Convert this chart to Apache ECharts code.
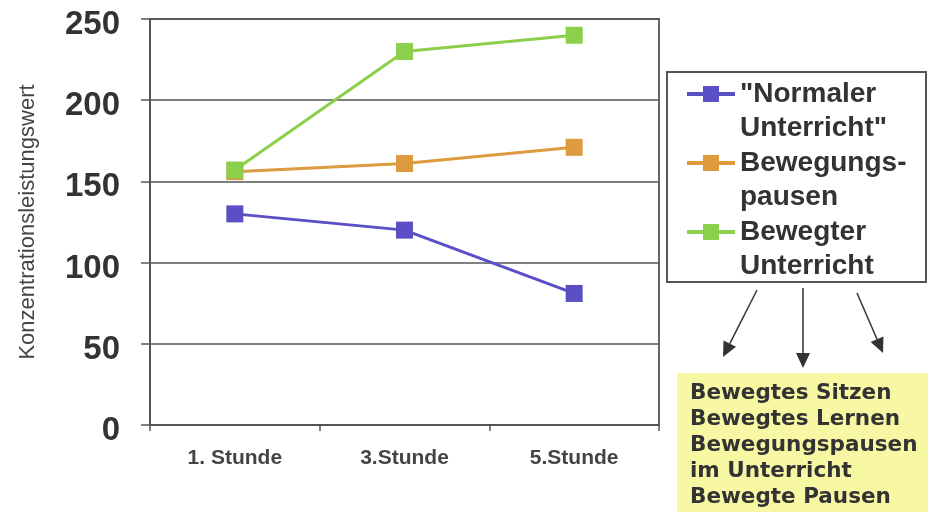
<!DOCTYPE html>
<html>
<head>
<meta charset="utf-8">
<script src="https://cdn.jsdelivr.net/npm/echarts@6/dist/echarts.min.js"></script>
<style>
  html, body { margin: 0; padding: 0; background: #ffffff; }
  #chart { width: 928px; height: 512px; }
</style>
</head>
<body>
<div id="chart"></div>
<script>
// Lesson hours on the category axis
const stunden = ['1. Stunde', '3.Stunde', '5.Stunde'];

// Concentration performance per teaching form
const normalerUnterricht = [130, 120, 81];
const bewegungspausen = [156, 161, 171];
const bewegterUnterricht = [157, 230, 240];

// Series names and their two-line legend captions
const seriesNames = ['"Normaler Unterricht"', 'Bewegungspausen', 'Bewegter Unterricht'];
const legendCaptions = ['"Normaler\nUnterricht"', 'Bewegungs-\npausen', 'Bewegter\nUnterricht'];

// Value axis range and step
const yMin = 0, yMax = 250, yStep = 50;

// Forms of "bewegte Schule" listed in the yellow note
const noteLines = ['Bewegtes Sitzen', 'Bewegtes Lernen', 'Bewegungspausen', 'im Unterricht', 'Bewegte Pausen'];

const colors = ['#5a4fc4', '#dd9a3e', '#8ccf4a'];
const seriesData = [normalerUnterricht, bewegungspausen, bewegterUnterricht];

const chart = echarts.init(document.getElementById('chart'), null, { renderer: 'canvas' });

// Arrow from the legend frame down to the note: shaft plus filled head
function arrow(x1, y1, x2, y2) {
  const dx = x2 - x1, dy = y2 - y1;
  const len = Math.sqrt(dx * dx + dy * dy);
  const ux = dx / len, uy = dy / len;
  const headLen = 15, headHalf = 7;
  const bx = x2 - ux * headLen, by = y2 - uy * headLen;
  return [
    { type: 'line', shape: { x1: x1, y1: y1, x2: bx, y2: by }, style: { stroke: '#333', lineWidth: 1.5 }, z: 5 },
    { type: 'polygon', shape: { points: [[x2, y2], [bx - uy * headHalf, by + ux * headHalf], [bx + uy * headHalf, by - ux * headHalf]] }, style: { fill: '#333' }, z: 5 }
  ];
}

const option = {
  backgroundColor: '#ffffff',
  animation: false,
  color: colors,
  grid: {
    left: 150, right: 269, top: 19, bottom: 87,
    show: true, borderColor: '#666', borderWidth: 2
  },
  legend: {
    orient: 'vertical',
    left: 685, top: 43,
    padding: 0,
    itemWidth: 48, itemHeight: 20, itemGap: -33,
    data: seriesNames,
    // leading blank line keeps the first caption line level with the icon
    formatter: function (name) { return '\n' + legendCaptions[seriesNames.indexOf(name)]; },
    lineStyle: { width: 4 },
    textStyle: {
      fontFamily: 'Liberation Sans, Arial, sans-serif',
      fontSize: 28, fontWeight: 'bold', color: '#333',
      lineHeight: 34
    }
  },
  xAxis: {
    type: 'category',
    data: stunden,
    boundaryGap: true,
    axisLine: { lineStyle: { color: '#555', width: 2 } },
    axisTick: { show: true, length: 6, lineStyle: { color: '#555', width: 1.5 } },
    axisLabel: {
      margin: 23, color: '#444',
      fontFamily: 'Liberation Sans, Arial, sans-serif', fontSize: 21, fontWeight: 'bold'
    }
  },
  yAxis: {
    type: 'value',
    min: yMin, max: yMax, interval: yStep,
    name: 'Konzentrationsleistungswert',
    nameLocation: 'middle',
    nameRotate: 90,
    nameGap: 111,
    nameTextStyle: {
      fontFamily: 'Liberation Sans, Arial, sans-serif', fontSize: 22, color: '#444'
    },
    axisLine: { show: true, lineStyle: { color: '#555', width: 2 } },
    axisTick: { show: true, length: 9, lineStyle: { color: '#555', width: 1.5 } },
    splitLine: { show: true, lineStyle: { color: '#555', width: 1.5 } },
    axisLabel: {
      margin: 30, color: '#333',
      verticalAlign: 'top', lineHeight: 12,
      fontFamily: 'Liberation Sans, Arial, sans-serif', fontSize: 33, fontWeight: 'bold'
    }
  },
  series: seriesNames.map(function (name, i) {
    return {
      name: name,
      type: 'line',
      data: seriesData[i],
      symbol: 'rect',
      symbolSize: 17,
      lineStyle: { width: 3, color: colors[i] },
      itemStyle: { color: colors[i] },
      z: 3 + i
    };
  }),
  graphic: [
    // legend frame
    { type: 'rect', shape: { x: 667, y: 72, width: 259, height: 210 }, style: { fill: '#ffffff', stroke: '#555', lineWidth: 2 }, z: -1 },
    // yellow note
    { type: 'rect', shape: { x: 677, y: 373, width: 251, height: 139 }, style: { fill: '#f8f7a4' }, z: 1 },
    {
      type: 'text', left: 690, top: 380, z: 2,
      style: {
        text: noteLines.join('\n'),
        font: 'bold 21.5px "DejaVu Sans", Verdana, sans-serif',
        fill: '#333', lineHeight: 26
      }
    }
  ].concat(arrow(757, 290, 723, 357), arrow(803, 288, 803, 368), arrow(857, 293, 883, 353))
};

chart.setOption(option);
</script>
</body>
</html>
